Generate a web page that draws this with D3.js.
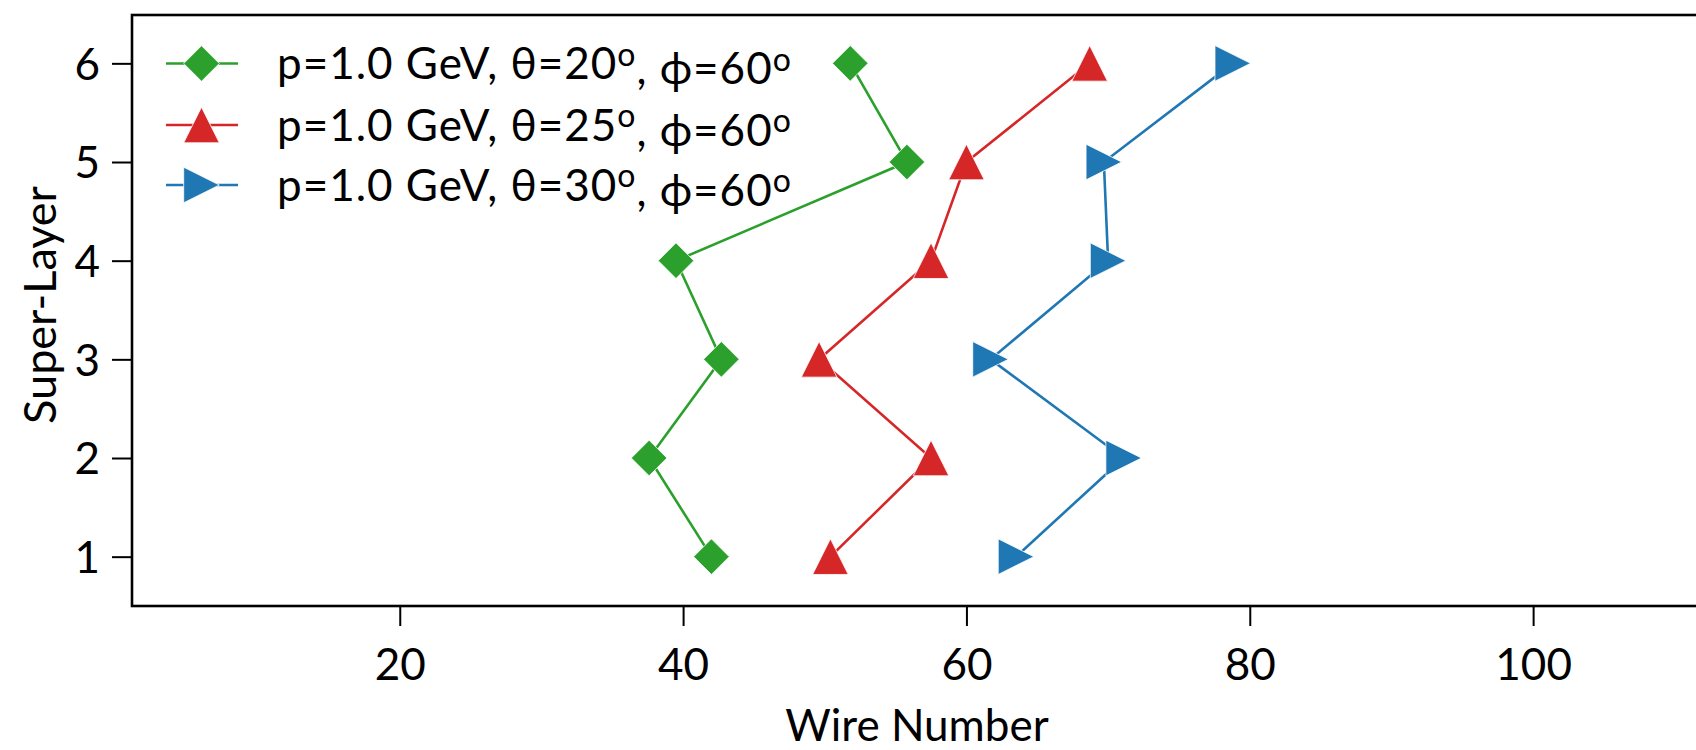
<!DOCTYPE html>
<html>
<head>
<meta charset="utf-8">
<script src="https://cdn.jsdelivr.net/npm/d3@7"></script>
<style>
  html, body { margin: 0; padding: 0; background: #fff; }
  svg { display: block; font-family: Lato, "Open Sans", sans-serif; }
</style>
</head>
<body>
<svg id="chart" width="1696" height="750"></svg>
<script>
// ---- data ----
const superLayers = [1, 2, 3, 4, 5, 6];
const wireTheta20 = [42.0, 37.6, 42.7, 39.5, 55.8, 51.8];
const wireTheta25 = [50.4, 57.5, 49.6, 57.5, 60.0, 68.7];
const wireTheta30 = [63.5, 71.1, 61.7, 70.0, 69.7, 78.8];
const seriesNames = ["p=1.0 GeV, θ=20", "p=1.0 GeV, θ=25", "p=1.0 GeV, θ=30"];
const xTicks = [20, 40, 60, 80, 100];
const yTicks = [1, 2, 3, 4, 5, 6];
const xDomain = [1.1, 113];
const yDomain = [0.5, 6.49];

const colors = ["#2ca02c", "#d62728", "#1f77b4"];
const markers = ["diamond", "up", "right"];
const seriesValues = [wireTheta20, wireTheta25, wireTheta30];

const svg = d3.select("#chart");
const mLeft = 132, mTop = 15, mBottom = 606;
const pxPerUnit = 14.167;
const mRight = mLeft + (xDomain[1] - xDomain[0]) * pxPerUnit;

const x = d3.scaleLinear().domain(xDomain).range([mLeft, mRight]);
const y = d3.scaleLinear().domain(yDomain).range([mBottom, mTop]);

function markerPath(type, r) {
  if (type === "diamond") return `M0,${-r}L${r},0L0,${r}L${-r},0Z`;
  if (type === "up") return `M0,${-r}L${r},${r}L${-r},${r}Z`;
  if (type === "right") return `M${r},0L${-r},${-r}L${-r},${r}Z`;
}

// clip
svg.append("defs").append("clipPath").attr("id", "clip")
  .append("rect").attr("x", mLeft).attr("y", mTop).attr("width", mRight - mLeft).attr("height", mBottom - mTop);

// axes
const xAxis = svg.append("g").attr("transform", `translate(0,${mBottom})`)
  .call(d3.axisBottom(x).tickValues(xTicks).tickSize(20).tickPadding(22).tickFormat(d3.format("d")));
const yAxis = svg.append("g").attr("transform", `translate(${mLeft},0)`)
  .call(d3.axisLeft(y).tickValues(yTicks).tickSize(20).tickPadding(12).tickFormat(d3.format("d")));

[xAxis, yAxis].forEach(g => {
  g.select(".domain").remove();
  g.selectAll(".tick line").attr("stroke", "#000").attr("stroke-width", 2);
  g.selectAll(".tick text").attr("fill", "#000").style("font-size", "44px").style("font-family", "Lato");
});
yAxis.selectAll(".tick text").attr("dy", "0.36em");
xAxis.selectAll(".tick text").attr("dy", "0.72em");

// frame (spines)
svg.append("rect").attr("x", mLeft).attr("y", mTop).attr("width", mRight - mLeft).attr("height", mBottom - mTop)
  .attr("fill", "none").attr("stroke", "#000").attr("stroke-width", 2.6);

// series
const plot = svg.append("g").attr("clip-path", "url(#clip)");
const line = d3.line().x(d => x(d[0])).y(d => y(d[1]));
seriesValues.forEach((vals, i) => {
  const pts = vals.map((v, k) => [v, superLayers[k]]);
  plot.append("path").datum(pts).attr("d", line)
    .attr("fill", "none").attr("stroke", colors[i]).attr("stroke-width", 2.6);
  plot.selectAll(null).data(pts).enter().append("path")
    .attr("transform", d => `translate(${x(d[0])},${y(d[1])})`)
    .attr("d", markerPath(markers[i], 17.8))
    .attr("fill", colors[i]).attr("stroke", "#fff").attr("stroke-width", 0.8);
});

// legend
const legRows = [63.5, 125, 185];
seriesNames.forEach((name, i) => {
  const g = svg.append("g").attr("transform", `translate(0,${legRows[i]})`);
  g.append("line").attr("x1", 166).attr("x2", 238).attr("y1", 0).attr("y2", 0)
    .attr("stroke", colors[i]).attr("stroke-width", 2.6);
  g.append("path").attr("transform", "translate(201.5,0)").attr("d", markerPath(markers[i], 17.8))
    .attr("fill", colors[i]).attr("stroke", "#fff").attr("stroke-width", 0.8);
  const t = g.append("text").attr("x", 277).attr("y", 0).attr("dy", "0.36em")
    .style("font-size", "44px").style("letter-spacing", "1px").attr("fill", "#000");
  t.append("tspan").text(name);
  t.append("tspan").attr("dy", "-0.42em").style("font-size", "32px").text("o");
  t.append("tspan").attr("dy", "0.42em").text(", ϕ=60");
  t.append("tspan").attr("dy", "-0.42em").style("font-size", "32px").text("o");
});

// axis labels
svg.append("text").attr("x", 917).attr("y", 741)
  .attr("text-anchor", "middle").style("font-size", "44px").attr("fill", "#000").text("Wire Number");
svg.append("text").attr("transform", "translate(56,305) rotate(-90)")
  .attr("text-anchor", "middle").style("font-size", "45px").attr("fill", "#000").text("Super-Layer");
</script>
</body>
</html>
